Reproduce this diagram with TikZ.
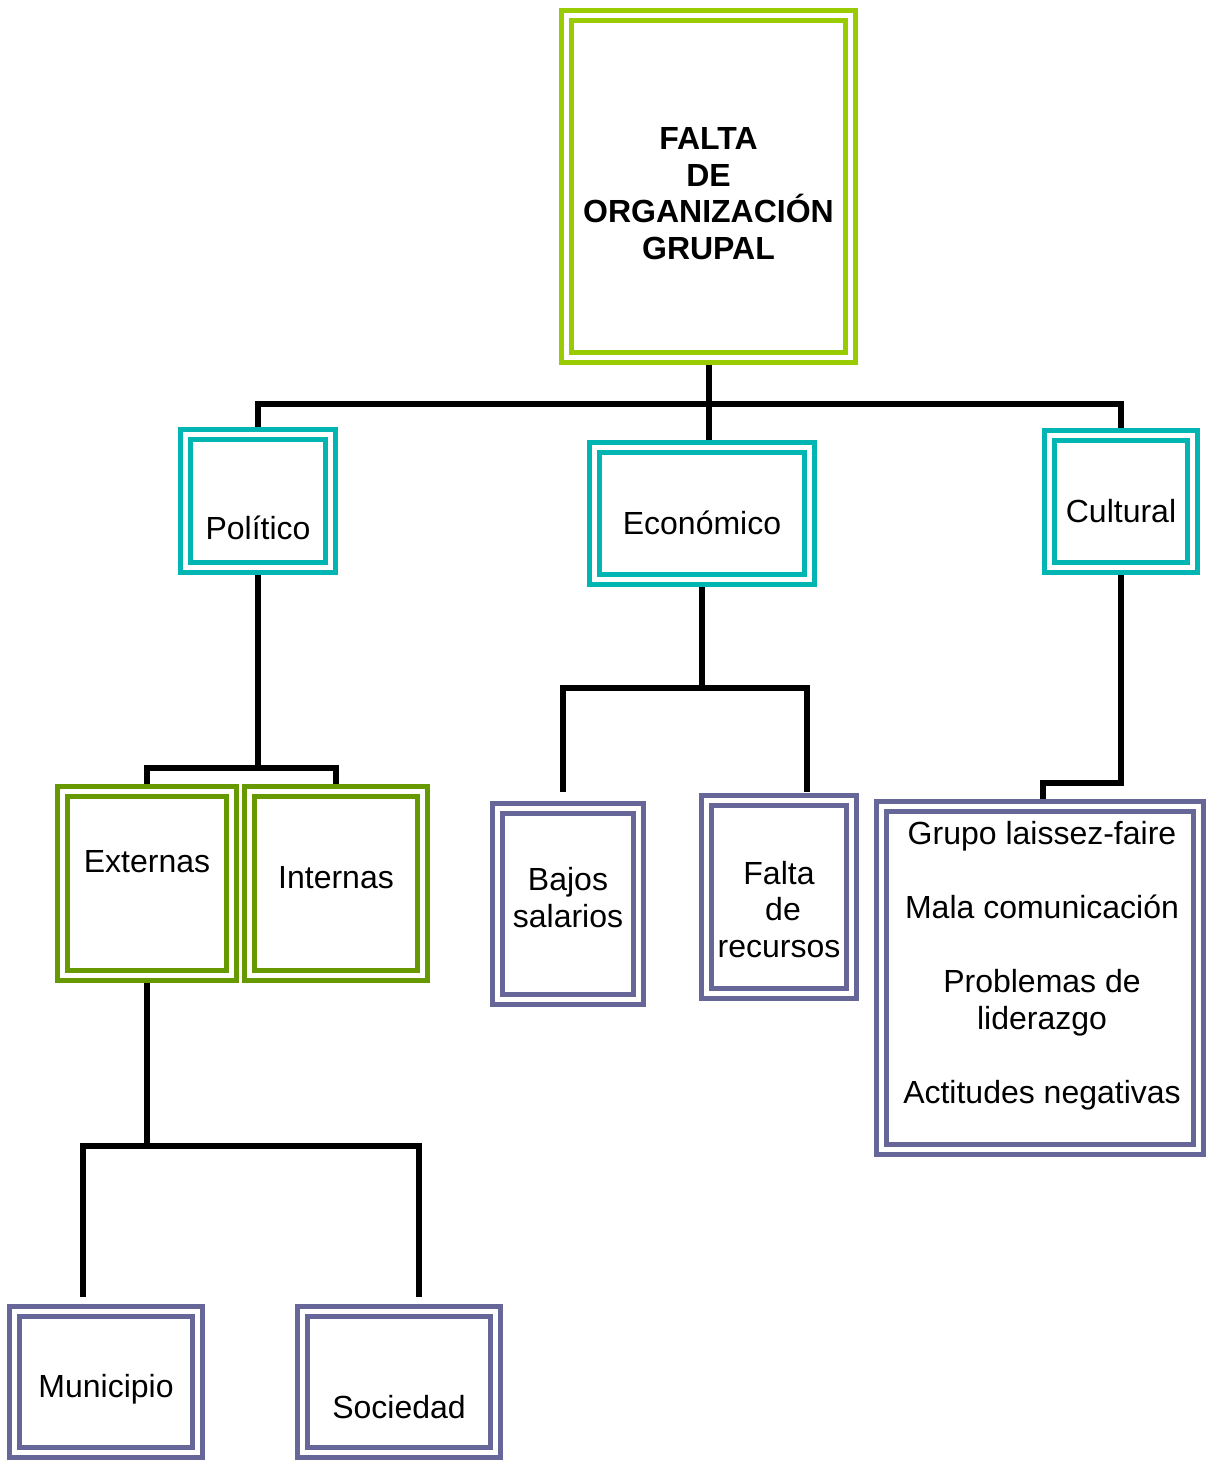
\documentclass[tikz,border=0pt]{standalone}
\usepackage{fontspec}
\setmainfont{Liberation Sans}
\usetikzlibrary{calc}
\definecolor{lime}{HTML}{99CC00}
\definecolor{tealc}{HTML}{00B5B2}
\definecolor{olive}{HTML}{669900}
\definecolor{purp}{HTML}{666699}
\tikzset{
  dbox/.style={draw=#1, double=white, line width=5pt, double distance=5pt, inner sep=0pt},
  conn/.style={draw=black, line width=6pt},
  txt/.style={font=\fontsize{32}{37}\selectfont, anchor=base, inner sep=0pt},
  btxt/.style={font=\fontsize{32}{37}\selectfont\bfseries, anchor=base, inner sep=0pt}
}
\begin{document}
\begin{tikzpicture}[x=1pt,y=-1pt]
\useasboundingbox (0,0) rectangle (1207,1460);
% boxes (positions only, drawn later)
\path
  (708.5,186.5) node[minimum width=284pt, minimum height=342pt] (top) {}
  (258,501)     node[minimum width=145pt, minimum height=133pt] (pol) {}
  (702,513.5)   node[minimum width=215pt, minimum height=132pt] (eco) {}
  (1121,501.5)  node[minimum width=143pt, minimum height=132pt] (cul) {}
  (147,883.5)   node[minimum width=169pt, minimum height=184pt] (ext) {}
  (336,883.5)   node[minimum width=173pt, minimum height=184pt] (int) {}
  (568,904)     node[minimum width=141pt, minimum height=191pt] (baj) {}
  (779,897)     node[minimum width=145pt, minimum height=193pt] (fal) {}
  (1040,978)    node[minimum width=317pt, minimum height=343pt] (lst) {}
  (106,1382)    node[minimum width=183pt, minimum height=141pt] (mun) {}
  (399,1382)    node[minimum width=193pt, minimum height=141pt] (soc) {};
% junction coordinates
\coordinate (j1) at (708.5,403.5);
\coordinate (j2) at (258,768);
\coordinate (j3) at (702,687.5);
\coordinate (j4) at (1121,783);
\coordinate (j5) at (147,1145.5);
\coordinate (b1) at (562.5,792);
\coordinate (f1) at (806.5,792);
\coordinate (c1) at (1043,806);
\coordinate (m1) at (82.5,1297);
\coordinate (s1) at (418.5,1297);
% connectors
\draw[conn] (top.south) -- (top.south |- eco.north);
\draw[conn] (pol.north) |- (j1) -| (cul.north);
\draw[conn] (pol.south) -- (j2);
\draw[conn] (ext.north) |- (j2) -| (int.north);
\draw[conn] (eco.south) -- (j3);
\draw[conn] (b1) |- (j3) -| (f1);
\draw[conn] (cul.south) -- (j4) -| (c1);
\draw[conn] (ext.south) -- (j5);
\draw[conn] (m1) |- (j5) -| (s1);
% box outlines
\draw[dbox=lime] (top.north west) rectangle (top.south east);
\draw[dbox=tealc] (pol.north west) rectangle (pol.south east);
\draw[dbox=tealc] (eco.north west) rectangle (eco.south east);
\draw[dbox=tealc] (cul.north west) rectangle (cul.south east);
\draw[dbox=olive] (ext.north west) rectangle (ext.south east);
\draw[dbox=olive] (int.north west) rectangle (int.south east);
\draw[dbox=purp] (baj.north west) rectangle (baj.south east);
\draw[dbox=purp] (fal.north west) rectangle (fal.south east);
\draw[dbox=purp] (lst.north west) rectangle (lst.south east);
\draw[dbox=purp] (mun.north west) rectangle (mun.south east);
\draw[dbox=purp] (soc.north west) rectangle (soc.south east);
% texts
\node[btxt] (t1) at (708.5,149) {FALTA};
\node[btxt] (t2) at (708.5,186) {DE};
\node[btxt] (t3) at (708.5,222.5) {ORGANIZACIÓN};
\node[btxt] (t4) at (708.5,259) {GRUPAL};
\node[txt] (tpol) at (258,539) {Político};
\node[txt] (teco) at (702,534) {Económico};
\node[txt] (tcul) at (1121,522) {Cultural};
\node[txt] (text) at (147,872) {Externas};
\node[txt] (tint) at (336,888) {Internas};
\node[txt] (tb1) at (568,890) {Bajos};
\node[txt] (tb2) at (568,927) {salarios};
\node[txt] (tf1) at (779,884) {Falta};
\node[txt] (tf2) at (783,920) {de};
\node[txt] (tf3) at (779,957) {recursos};
\node[txt] (tl1) at (1042,844) {Grupo laissez-faire};
\node[txt] (tl2) at (1042,918) {Mala comunicación};
\node[txt] (tl3) at (1042,992) {Problemas de};
\node[txt] (tl4) at (1042,1029) {liderazgo};
\node[txt] (tl5) at (1042,1103) {Actitudes negativas};
\node[txt] (tmun) at (106,1397) {Municipio};
\node[txt] (tsoc) at (399,1418) {Sociedad};
\end{tikzpicture}
\end{document}
